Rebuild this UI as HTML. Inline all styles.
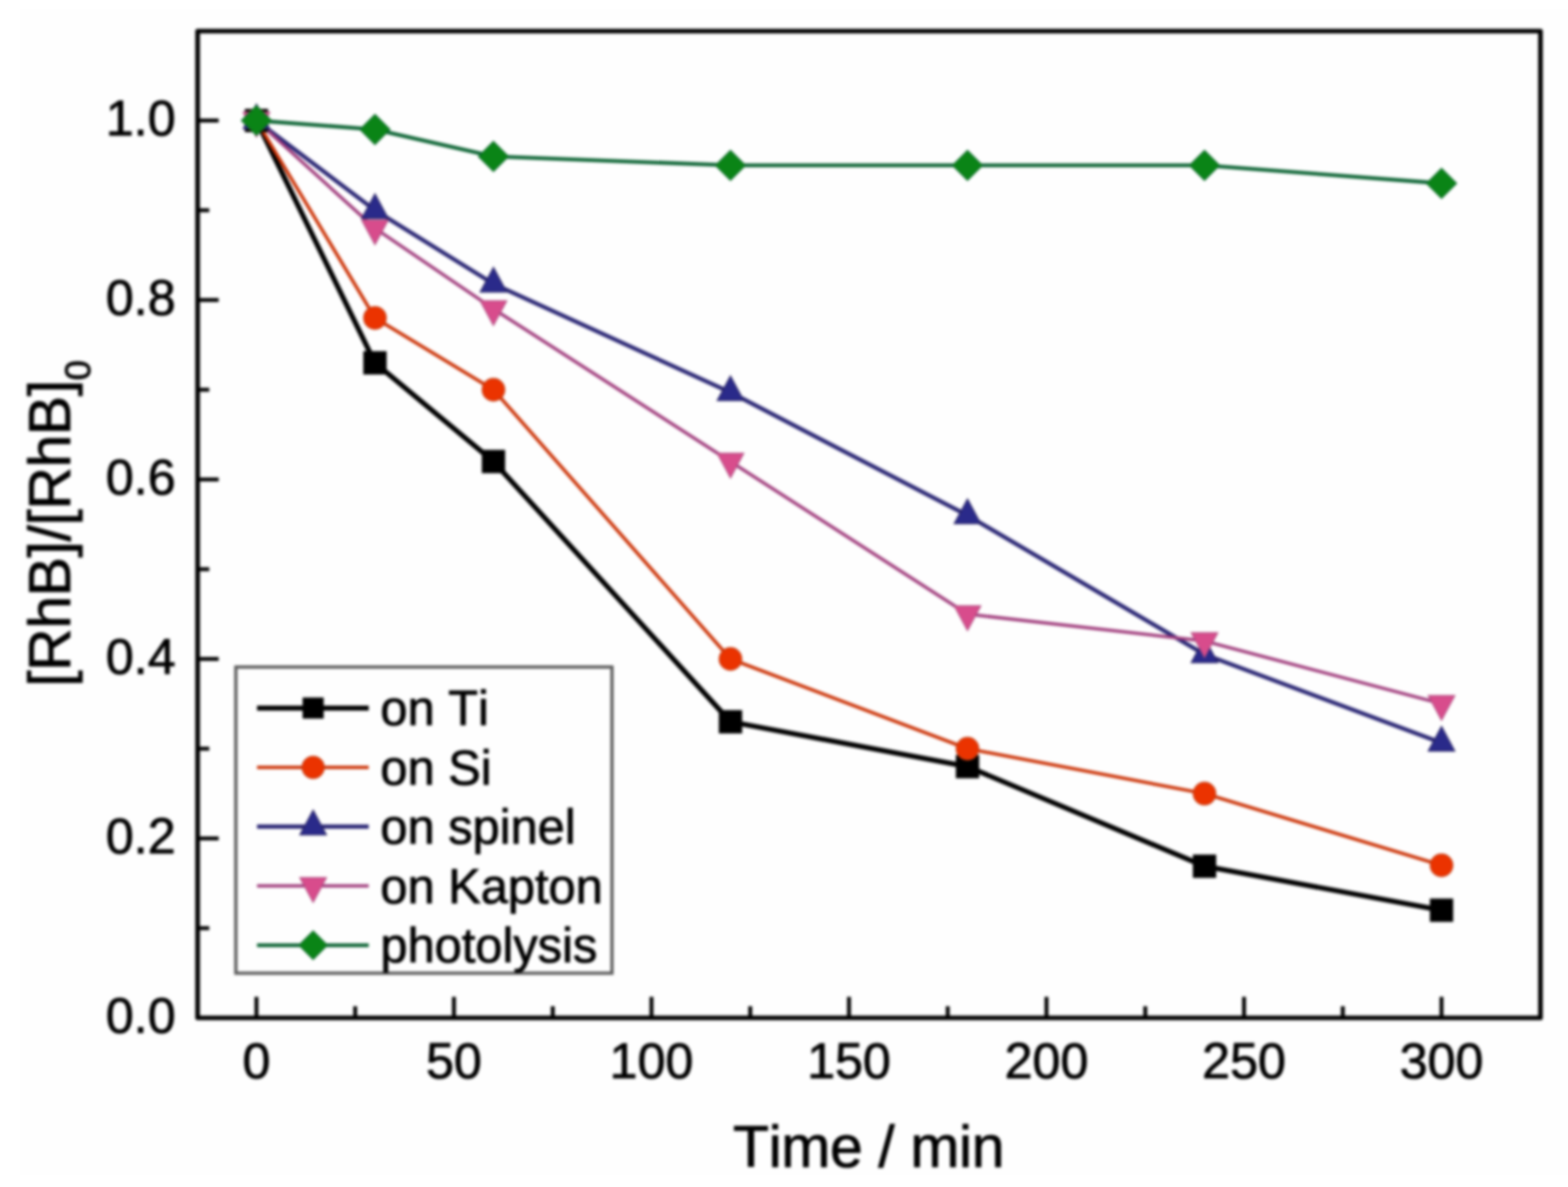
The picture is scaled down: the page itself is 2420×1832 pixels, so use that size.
<!DOCTYPE html>
<html><head><meta charset="utf-8"><title>[RhB]/[RhB]0 vs Time</title>
<style>
html,body{margin:0;padding:0;background:#ffffff;}
body{width:2420px;height:1832px;overflow:hidden;}
svg{display:block;filter:blur(2.0px);}
text{font-kerning:none;font-feature-settings:"kern" 0;}
</style></head>
<body>
<svg width="2420" height="1832" viewBox="0 0 2420 1832">
<rect x="0" y="0" width="2420" height="1832" fill="#ffffff"/>
<rect x="31" y="14" width="2389" height="1800" fill="#fefefe"/>
<polyline points="395.8,186.0 578.7,560.0 761.6,712.3 1127.4,1114.0 1493.2,1183.2 1859.0,1336.9 2224.8,1404.8" fill="none" stroke="#000000" stroke-width="7.8" stroke-linejoin="round" stroke-linecap="round"/>
<polyline points="395.8,186.0 578.7,490.7 761.6,601.5 1127.4,1017.0 1493.2,1155.5 1859.0,1224.8 2224.8,1335.5" fill="none" stroke="#cc3408" stroke-width="5.2" stroke-linejoin="round" stroke-linecap="round"/>
<polyline points="395.8,186.0 578.7,324.5 761.6,438.1 1127.4,605.7 1493.2,795.4 1859.0,1010.1 2224.8,1146.5" fill="none" stroke="#2a2674" stroke-width="6.4" stroke-linejoin="round" stroke-linecap="round"/>
<polyline points="395.8,186.0 578.7,352.2 761.6,476.8 1127.4,712.3 1493.2,947.8 1859.0,989.3 2224.8,1086.2" fill="none" stroke="#a03c7c" stroke-width="5.0" stroke-linejoin="round" stroke-linecap="round"/>
<polyline points="395.8,186.0 578.7,199.8 761.6,241.4 1127.4,255.2 1493.2,255.2 1859.0,255.2 2224.8,283.0" fill="none" stroke="#0c6434" stroke-width="5.8" stroke-linejoin="round" stroke-linecap="round"/>
<rect x="378.6" y="168.8" width="34.4" height="34.4" fill="#000000" stroke="#000000" stroke-width="1.6"/>
<rect x="561.5" y="542.8" width="34.4" height="34.4" fill="#000000" stroke="#000000" stroke-width="1.6"/>
<rect x="744.4" y="695.1" width="34.4" height="34.4" fill="#000000" stroke="#000000" stroke-width="1.6"/>
<rect x="1110.2" y="1096.8" width="34.4" height="34.4" fill="#000000" stroke="#000000" stroke-width="1.6"/>
<rect x="1476.0" y="1166.0" width="34.4" height="34.4" fill="#000000" stroke="#000000" stroke-width="1.6"/>
<rect x="1841.8" y="1319.7" width="34.4" height="34.4" fill="#000000" stroke="#000000" stroke-width="1.6"/>
<rect x="2207.6" y="1387.6" width="34.4" height="34.4" fill="#000000" stroke="#000000" stroke-width="1.6"/>
<circle cx="395.8" cy="186.0" r="17.4" fill="#eb3300" stroke="#c43c12" stroke-width="1.6"/>
<circle cx="578.7" cy="490.7" r="17.4" fill="#eb3300" stroke="#c43c12" stroke-width="1.6"/>
<circle cx="761.6" cy="601.5" r="17.4" fill="#eb3300" stroke="#c43c12" stroke-width="1.6"/>
<circle cx="1127.4" cy="1017.0" r="17.4" fill="#eb3300" stroke="#c43c12" stroke-width="1.6"/>
<circle cx="1493.2" cy="1155.5" r="17.4" fill="#eb3300" stroke="#c43c12" stroke-width="1.6"/>
<circle cx="1859.0" cy="1224.8" r="17.4" fill="#eb3300" stroke="#c43c12" stroke-width="1.6"/>
<circle cx="2224.8" cy="1335.5" r="17.4" fill="#eb3300" stroke="#c43c12" stroke-width="1.6"/>
<polygon points="395.8,160.7 416.3,198.7 375.3,198.7" fill="#2a2a8a" stroke="#262060" stroke-width="1.6" stroke-linejoin="miter"/>
<polygon points="578.7,299.2 599.2,337.2 558.2,337.2" fill="#2a2a8a" stroke="#262060" stroke-width="1.6" stroke-linejoin="miter"/>
<polygon points="761.6,412.7 782.1,450.7 741.1,450.7" fill="#2a2a8a" stroke="#262060" stroke-width="1.6" stroke-linejoin="miter"/>
<polygon points="1127.4,580.3 1147.9,618.3 1106.9,618.3" fill="#2a2a8a" stroke="#262060" stroke-width="1.6" stroke-linejoin="miter"/>
<polygon points="1493.2,770.1 1513.7,808.1 1472.7,808.1" fill="#2a2a8a" stroke="#262060" stroke-width="1.6" stroke-linejoin="miter"/>
<polygon points="1859.0,984.7 1879.5,1022.7 1838.5,1022.7" fill="#2a2a8a" stroke="#262060" stroke-width="1.6" stroke-linejoin="miter"/>
<polygon points="2224.8,1121.2 2245.3,1159.2 2204.3,1159.2" fill="#2a2a8a" stroke="#262060" stroke-width="1.6" stroke-linejoin="miter"/>
<polygon points="395.8,211.3 416.3,173.3 375.3,173.3" fill="#d84c8c" stroke="#b04a80" stroke-width="1.6" stroke-linejoin="miter"/>
<polygon points="578.7,377.5 599.2,339.5 558.2,339.5" fill="#d84c8c" stroke="#b04a80" stroke-width="1.6" stroke-linejoin="miter"/>
<polygon points="761.6,502.2 782.1,464.2 741.1,464.2" fill="#d84c8c" stroke="#b04a80" stroke-width="1.6" stroke-linejoin="miter"/>
<polygon points="1127.4,737.6 1147.9,699.6 1106.9,699.6" fill="#d84c8c" stroke="#b04a80" stroke-width="1.6" stroke-linejoin="miter"/>
<polygon points="1493.2,973.1 1513.7,935.1 1472.7,935.1" fill="#d84c8c" stroke="#b04a80" stroke-width="1.6" stroke-linejoin="miter"/>
<polygon points="1859.0,1014.6 1879.5,976.6 1838.5,976.6" fill="#d84c8c" stroke="#b04a80" stroke-width="1.6" stroke-linejoin="miter"/>
<polygon points="2224.8,1111.6 2245.3,1073.6 2204.3,1073.6" fill="#d84c8c" stroke="#b04a80" stroke-width="1.6" stroke-linejoin="miter"/>
<polygon points="395.8,162.8 419.0,186.0 395.8,209.2 372.6,186.0" fill="#0a8416" stroke="#0b6a2c" stroke-width="1.6"/>
<polygon points="578.7,176.6 601.9,199.8 578.7,223.0 555.5,199.8" fill="#0a8416" stroke="#0b6a2c" stroke-width="1.6"/>
<polygon points="761.6,218.2 784.8,241.4 761.6,264.6 738.4,241.4" fill="#0a8416" stroke="#0b6a2c" stroke-width="1.6"/>
<polygon points="1127.4,232.1 1150.6,255.2 1127.4,278.4 1104.2,255.2" fill="#0a8416" stroke="#0b6a2c" stroke-width="1.6"/>
<polygon points="1493.2,232.1 1516.4,255.2 1493.2,278.4 1470.0,255.2" fill="#0a8416" stroke="#0b6a2c" stroke-width="1.6"/>
<polygon points="1859.0,232.1 1882.2,255.2 1859.0,278.4 1835.8,255.2" fill="#0a8416" stroke="#0b6a2c" stroke-width="1.6"/>
<polygon points="2224.8,259.8 2248.0,283.0 2224.8,306.2 2201.6,283.0" fill="#0a8416" stroke="#0b6a2c" stroke-width="1.6"/>
<path d="M305.0,1432.5H323.0M305.0,1294.0H337.5M305.0,1155.5H323.0M305.0,1017.0H337.5M305.0,878.5H323.0M305.0,740.0H337.5M305.0,601.5H323.0M305.0,463.0H337.5M305.0,324.5H323.0M305.0,186.0H337.5M395.8,1571.0V1538.5M548.2,1571.0V1553.0M700.6,1571.0V1538.5M853.1,1571.0V1553.0M1005.5,1571.0V1538.5M1157.9,1571.0V1553.0M1310.3,1571.0V1538.5M1462.7,1571.0V1553.0M1615.1,1571.0V1538.5M1767.6,1571.0V1553.0M1920.0,1571.0V1538.5M2072.4,1571.0V1553.0M2224.8,1571.0V1538.5M2377.2,1571.0V1553.0" stroke="#000" stroke-width="6.0" fill="none"/>
<rect x="305.0" y="48.0" width="2072.5" height="1523.0" fill="none" stroke="#000" stroke-width="7.2" stroke-linejoin="round"/>
<g font-family='"Liberation Sans", Arial, Helvetica, sans-serif' font-size="77.5" fill="#000" stroke="#000" stroke-width="1.2"><text x="271" y="1593.6" text-anchor="end">0.0</text><text x="271" y="1316.6" text-anchor="end">0.2</text><text x="271" y="1039.6" text-anchor="end">0.4</text><text x="271" y="762.6" text-anchor="end">0.6</text><text x="271" y="485.6" text-anchor="end">0.8</text><text x="271" y="208.6" text-anchor="end">1.0</text><text x="395.8" y="1663.6" text-anchor="middle">0</text><text x="700.6" y="1663.6" text-anchor="middle">50</text><text x="1005.5" y="1663.6" text-anchor="middle">100</text><text x="1310.3" y="1663.6" text-anchor="middle">150</text><text x="1615.1" y="1663.6" text-anchor="middle">200</text><text x="1920.0" y="1663.6" text-anchor="middle">250</text><text x="2224.8" y="1663.6" text-anchor="middle">300</text></g>
<text x="1131.2" y="1801" font-family='"Liberation Sans", Arial, Helvetica, sans-serif' font-size="91" letter-spacing="-0.62" fill="#000" stroke="#000" stroke-width="1.2">Time / min</text>
<text transform="translate(107.6,1060) rotate(-90)" x="0" y="0" font-family='"Liberation Sans", Arial, Helvetica, sans-serif' font-size="91" letter-spacing="-0.68" fill="#000" stroke="#000" stroke-width="1.2">[RhB]/[RhB]<tspan font-size="56" dy="31">0</tspan></text>
<rect x="364.0" y="1029.5" width="580.5" height="472.5" fill="#fefefe" stroke="#5c5c5c" stroke-width="5"/>
<line x1="396.7" y1="1092.8" x2="569.1" y2="1092.8" stroke="#000000" stroke-width="7.8"/>
<rect x="467.8" y="1077.3" width="31.0" height="31.0" fill="#000000" stroke="#000000" stroke-width="1.6"/>
<text x="587" y="1119.0" font-family='"Liberation Sans", Arial, Helvetica, sans-serif' font-size="75.3" fill="#000" stroke="#000" stroke-width="1.2">on Ti</text>
<line x1="396.7" y1="1184.3" x2="569.1" y2="1184.3" stroke="#cc3408" stroke-width="5.2"/>
<circle cx="483.3" cy="1184.3" r="17.1" fill="#eb3300" stroke="#c43c12" stroke-width="1.6"/>
<text x="587" y="1210.5" font-family='"Liberation Sans", Arial, Helvetica, sans-serif' font-size="75.3" fill="#000" stroke="#000" stroke-width="1.2">on Si</text>
<line x1="396.7" y1="1275.8" x2="569.1" y2="1275.8" stroke="#2a2674" stroke-width="6.4"/>
<polygon points="483.3,1250.5 503.8,1288.5 462.8,1288.5" fill="#2a2a8a" stroke="#262060" stroke-width="1.6" stroke-linejoin="miter"/>
<text x="587" y="1302.0" font-family='"Liberation Sans", Arial, Helvetica, sans-serif' font-size="75.3" fill="#000" stroke="#000" stroke-width="1.2">on spinel</text>
<line x1="396.7" y1="1367.3" x2="569.1" y2="1367.3" stroke="#a03c7c" stroke-width="5.0"/>
<polygon points="483.3,1392.6 503.8,1354.6 462.8,1354.6" fill="#d84c8c" stroke="#b04a80" stroke-width="1.6" stroke-linejoin="miter"/>
<text x="587" y="1393.5" font-family='"Liberation Sans", Arial, Helvetica, sans-serif' font-size="75.3" fill="#000" stroke="#000" stroke-width="1.2">on Kapton</text>
<line x1="396.7" y1="1458.8" x2="569.1" y2="1458.8" stroke="#0c6434" stroke-width="5.8"/>
<polygon points="483.3,1436.8 505.3,1458.8 483.3,1480.8 461.3,1458.8" fill="#0a8416" stroke="#0b6a2c" stroke-width="1.6"/>
<text x="587" y="1485.0" font-family='"Liberation Sans", Arial, Helvetica, sans-serif' font-size="75.3" fill="#000" stroke="#000" stroke-width="1.2">photolysis</text>
</svg>
</body></html>
